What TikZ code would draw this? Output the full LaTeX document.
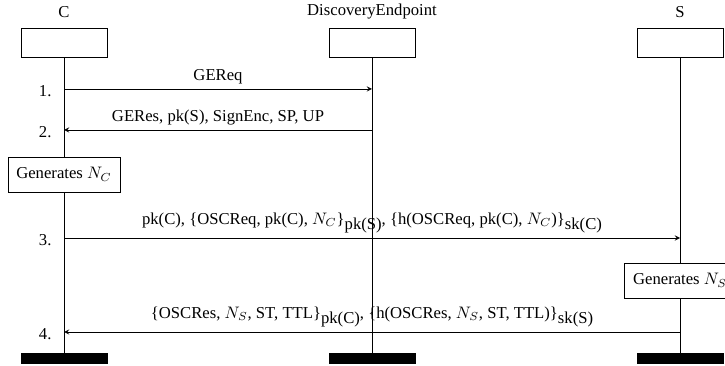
\documentclass[tikz,border=0pt]{standalone}
\usepackage{amsmath}
\usepackage{fontspec}
\setmainfont{Liberation Serif}
\usetikzlibrary{positioning,calc}
\newcommand{\keysub}[1]{\raisebox{-3.5pt}{#1}}
\tikzset{
  header/.style={draw, minimum width=51.6pt, minimum height=17.4pt, inner sep=0pt},
  footbar/.style={fill=black, minimum width=52.2pt, minimum height=6.6pt, inner sep=0pt},
  action/.style={draw, fill=white, minimum height=21pt, inner xsep=5pt},
  msg/.style={->, >=stealth},
  stepno/.style={left=4pt, yshift=-1pt},
  msglabel/.style={above, inner sep=2.5pt},
}

\begin{document}
\begin{tikzpicture}[x=0.6pt,y=-0.6pt]
    \useasboundingbox (0,0) rectangle (725,366);
    % participants and lifelines
    \foreach \name/\lbl/\x in {c/C/64, de/DiscoveryEndpoint/372, s/S/680}
    {
        \node[header] (\name-head) at (\x,42.5) {};
        \node (\name-lbl) at (\x,12) {\lbl};
        \node[footbar] (\name-foot) at (\x,358.5) {};
        \draw (\name-head) -- (\name-foot);
    }
    \node[action] (genc) at (64,174.5) {Generates $N_C$};
    \node[action] (gens) at (680,280.5) {Generates $N_S$};
    % messages
    \foreach \n/\y/\from/\to in {1/89/c/de, 2/130/de/c, 3/238/c/s, 4/332/s/c}
    {
        \coordinate (m\n a) at (\from-head |- 0,\y);
        \coordinate (m\n b) at (\to-head |- 0,\y);
        \draw[msg] (m\n a) -- (m\n b);
        \node[stepno] (n\n) at (c-head |- 0,\y) {\n.};
    }
    \node[msglabel] (l1) at ($(m1a)!0.5!(m1b)$) {GEReq};
    \node[msglabel] (l2) at ($(m2a)!0.5!(m2b)$) {GERes, pk(S), SignEnc, SP, UP};
    \node[msglabel] (l3) at ($(m3a)!0.5!(m3b)$)
        {pk(C), \{OSCReq, pk(C), $N_C$\}\keysub{pk(S)}, \{h(OSCReq, pk(C), $N_C$)\}\keysub{sk(C)}};
    \node[msglabel] (l4) at ($(m4a)!0.5!(m4b)$)
        {\{OSCRes, $N_S$, ST, TTL\}\keysub{pk(C)}, \{h(OSCRes, $N_S$, ST, TTL)\}\keysub{sk(S)}};
\end{tikzpicture}
\end{document}
